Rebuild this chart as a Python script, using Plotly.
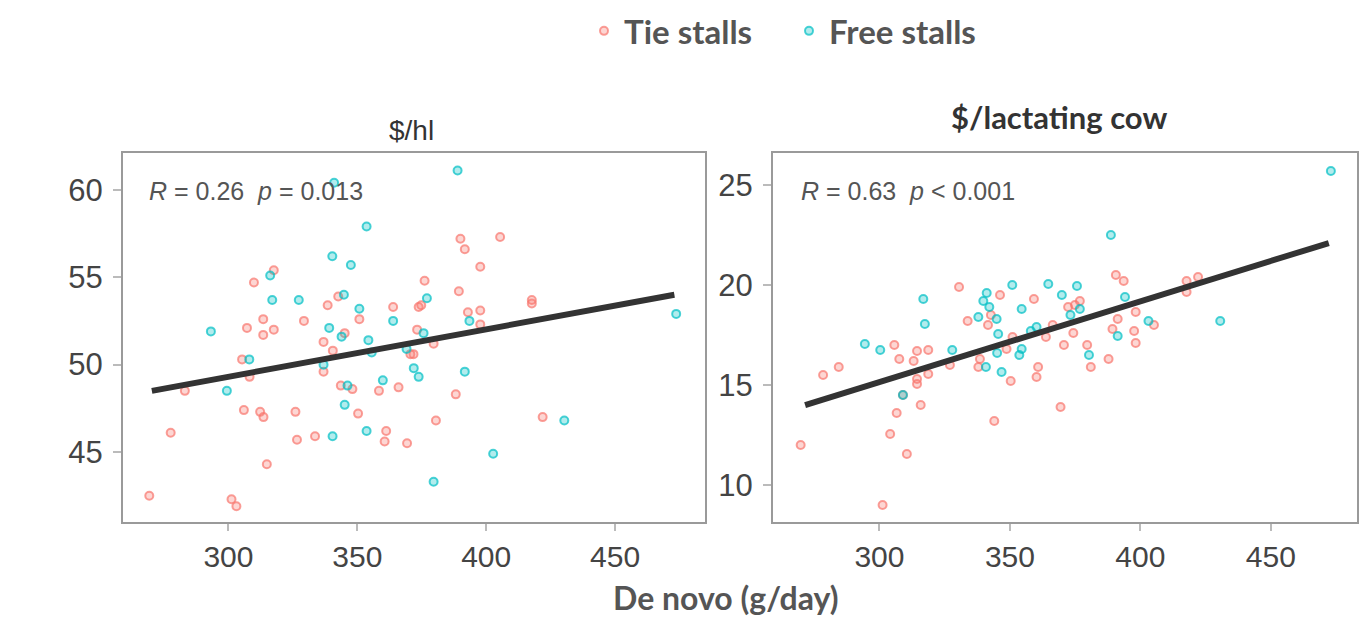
import plotly.graph_objects as go

# ---------------- data ----------------
# Panel 1: $/hl
hl_tie_x = [269.3, 277.6, 283.1, 301.2, 303.1, 305.3, 306.0, 307.2, 308.2, 309.9, 312.3, 313.5, 313.5, 313.6,
            314.9, 317.6, 317.6, 326.0, 326.6, 329.3, 333.6, 336.9, 336.9, 338.5, 340.5, 342.6, 343.6, 345.1,
            348.1, 350.3, 350.8, 358.4, 360.6, 361.2, 363.9, 366.0, 369.3, 370.6, 373.2, 373.8, 374.8, 376.1,
            379.6, 380.5, 388.2, 389.4, 390.0, 391.7, 392.9, 397.7, 397.7, 397.7, 405.4, 417.7, 417.7, 421.9,
            371.8]
hl_tie_y = [42.5, 46.1, 48.5, 42.3, 41.9, 50.3, 47.4, 52.1, 49.3, 54.7, 47.3, 52.6, 51.7, 47.0,
            44.3, 52.0, 55.4, 47.3, 45.7, 52.5, 45.9, 51.3, 49.6, 53.4, 50.8, 53.9, 48.8, 51.8,
            48.6, 47.2, 52.6, 48.5, 45.6, 46.2, 53.3, 48.7, 45.5, 50.6, 52.0, 53.3, 53.4, 54.8,
            51.2, 46.8, 48.3, 54.2, 57.2, 56.6, 53.0, 55.6, 53.1, 52.3, 57.3, 53.7, 53.5, 47.0,
            50.6]
hl_free_x = [293.2, 299.4, 308.1, 316.2, 317.0, 327.3, 339.1, 340.3, 341.0, 344.8, 343.9, 345.1, 346.2,
             340.4, 347.5, 350.8, 353.6, 354.3, 353.6, 359.9, 363.9, 369.1, 371.9, 373.8, 336.9, 355.6,
             375.7, 377.0, 379.6, 388.9, 391.7, 393.5, 402.7, 430.3, 473.7]
hl_free_y = [51.9, 48.5, 50.3, 55.1, 53.7, 53.7, 52.1, 56.2, 60.4, 54.0, 51.6, 47.7, 48.8,
             45.9, 55.7, 53.2, 57.9, 51.4, 46.2, 49.1, 52.5, 50.9, 49.8, 49.3, 50.0, 50.7,
             51.8, 53.8, 43.3, 61.1, 49.6, 52.5, 44.9, 46.8, 52.9]

# Panel 2: $/lactating cow
cow_tie_x = [269.8, 278.4, 284.4, 301.2, 304.1, 305.7, 306.6, 307.6, 309.0, 310.5, 313.1, 314.4, 314.4,
             314.4, 315.8, 318.7, 318.7, 327.0, 330.5, 333.8, 337.9, 338.5, 341.6, 342.7, 344.0, 346.2,
             348.7, 350.3, 351.0, 359.2, 360.2, 360.8, 363.8, 366.4, 369.4, 370.7, 372.3, 374.3, 374.9,
             376.8, 379.6, 381.0, 387.8, 389.3, 390.6, 391.3, 393.6, 397.6, 398.2, 398.2, 405.2, 417.7,
             417.7, 422.1]
cow_tie_y = [12.0, 15.5, 15.9, 9.0, 12.55, 17.0, 13.6, 16.3, 14.5, 11.55, 16.2, 16.7, 15.3,
             15.05, 14.0, 16.75, 15.55, 16.0, 19.9, 18.2, 15.9, 16.3, 18.0, 18.5, 13.2, 19.5,
             16.8, 15.2, 17.4, 19.3, 15.4, 15.9, 17.4, 18.0, 13.9, 17.0, 18.9, 17.6, 19.0,
             19.2, 17.0, 15.9, 16.3, 17.8, 20.5, 18.3, 20.2, 17.7, 18.65, 17.1, 18.0, 20.2,
             19.65, 20.4]
cow_free_x = [294.4, 300.3, 309.0, 316.8, 317.4, 327.9, 337.9, 339.8, 341.1, 342.1, 340.8, 344.9, 345.5,
              345.1, 346.8, 350.9, 354.5, 354.5, 353.6, 358.0, 360.2, 364.7, 369.9, 373.2, 375.7, 376.8,
              380.3, 388.7, 391.3, 394.1, 403.1, 430.6, 473.0]
cow_free_y = [17.05, 16.75, 14.5, 19.3, 18.05, 16.75, 18.4, 19.2, 19.6, 18.9, 15.9, 18.3, 17.55,
              16.6, 15.65, 20.0, 18.8, 16.8, 16.5, 17.7, 17.9, 20.05, 19.5, 18.5, 19.95, 18.8,
              16.5, 22.5, 17.45, 19.4, 18.2, 18.2, 25.7]

# regression line end points
fit_x_hl = [270.3, 473.0]
fit_y_hl = [48.5, 54.0]
fit_x_cow = [271.5, 472.2]
fit_y_cow = [14.0, 22.1]

group_names = ["Tie stalls", "Free stalls"]
stat_labels = ["<i>R</i> = 0.26  <i>p</i> = 0.013", "<i>R</i> = 0.63  <i>p</i> < 0.001"]
panel_titles = ["$/hl", "$/lactating cow"]
x_ticks = [300, 350, 400, 450]
y_ticks_hl = [45, 50, 55, 60]
y_ticks_cow = [10, 15, 20, 25]
axis_title = "De novo (g/day)"

# ---------------- styles ----------------
RED = "248,118,109"
CYAN = "0,191,196"


def marker(rgb):
    return dict(size=8, color=f"rgba({rgb},0.3)", line=dict(color=f"rgba({rgb},0.7)", width=2))


fig = go.Figure()

fig.add_trace(go.Scatter(x=hl_tie_x, y=hl_tie_y, mode="markers", name="<b>" + group_names[0] + "</b>",
                         marker=marker(RED), xaxis="x", yaxis="y", legendgroup="t"))
fig.add_trace(go.Scatter(x=hl_free_x, y=hl_free_y, mode="markers", name="<b>" + group_names[1] + "</b>",
                         marker=marker(CYAN), xaxis="x", yaxis="y", legendgroup="f"))
fig.add_trace(go.Scatter(x=fit_x_hl, y=fit_y_hl, mode="lines", line=dict(color="#333333", width=6),
                         showlegend=False, xaxis="x", yaxis="y"))

fig.add_trace(go.Scatter(x=cow_tie_x, y=cow_tie_y, mode="markers", name=group_names[0],
                         marker=marker(RED), xaxis="x2", yaxis="y2", legendgroup="t", showlegend=False))
fig.add_trace(go.Scatter(x=cow_free_x, y=cow_free_y, mode="markers", name=group_names[1],
                         marker=marker(CYAN), xaxis="x2", yaxis="y2", legendgroup="f", showlegend=False))
fig.add_trace(go.Scatter(x=fit_x_cow, y=fit_y_cow, mode="lines", line=dict(color="#333333", width=6),
                         showlegend=False, xaxis="x2", yaxis="y2"))

ydom = [0.1553, 0.7524]
common_x = dict(tickvals=x_ticks, ticks="outside", ticklen=7, tickcolor="#bbbbbb", tickwidth=2,
                showgrid=False, zeroline=False, showline=True, linecolor="#9a9a9a", linewidth=2, mirror=True,
                tickfont=dict(family="Liberation Sans", size=30, color="#444444"))
common_y = dict(ticks="outside", ticklen=8, tickcolor="#bbbbbb", tickwidth=2, showgrid=False, zeroline=False,
                showline=True, linecolor="#9a9a9a", linewidth=2, mirror=True, ticklabelstandoff=4,
                tickfont=dict(family="Liberation Sans", size=31, color="#444444"))

fig.update_layout(
    width=1359, height=618,
    margin=dict(l=0, r=0, t=0, b=0, autoexpand=False),
    paper_bgcolor="white", plot_bgcolor="white",
    xaxis=dict(domain=[0.0905, 0.5188], anchor="y", range=[259.1, 484.9], **common_x),
    yaxis=dict(domain=ydom, anchor="x", range=[41.0, 62.1], tickvals=y_ticks_hl, **common_y),
    xaxis2=dict(domain=[0.5688, 0.9985], anchor="y2", range=[259.2, 483.0], **common_x),
    yaxis2=dict(domain=ydom, anchor="x2", range=[8.15, 26.6], tickvals=y_ticks_cow, **common_y),
    legend=dict(orientation="h", x=584 / 1359, xanchor="left", y=0.95, yanchor="middle",
                font=dict(family="Lato", size=33, color="#555555"),
                bgcolor="rgba(0,0,0,0)", itemwidth=30, entrywidth=160, entrywidthmode="pixels"),
    showlegend=True,
)

annotations = [
    dict(text=stat_labels[0], xref="x domain", yref="y domain", x=0.042, y=0.897, xanchor="left",
         yanchor="middle", showarrow=False, font=dict(family="Liberation Sans", size=25, color="#555555")),
    dict(text=stat_labels[1], xref="x2 domain", yref="y2 domain", x=0.044, y=0.897, xanchor="left",
         yanchor="middle", showarrow=False, font=dict(family="Liberation Sans", size=25, color="#555555")),
    dict(text=panel_titles[0], xref="paper", yref="paper", x=411 / 1359, y=1 - 130 / 618, xanchor="center",
         yanchor="middle", showarrow=False, font=dict(family="Liberation Sans", size=28, color="#333333")),
    dict(text="<b>" + panel_titles[1] + "</b>", xref="paper", yref="paper", x=1059 / 1359, y=1 - 117 / 618,
         xanchor="center", yanchor="middle", showarrow=False,
         font=dict(family="Lato", size=31, color="#333333")),
    dict(text="<b>" + axis_title + "</b>", xref="paper", yref="paper", x=726 / 1359, y=1 - 597 / 618,
         xanchor="center", yanchor="middle", showarrow=False,
         font=dict(family="Lato", size=32, color="#555555")),
]
fig.update_layout(annotations=annotations)

fig.write_html("out.html", config={"displayModeBar": False},
               post_script="document.body.style.margin='0';document.body.style.overflow='hidden';")
